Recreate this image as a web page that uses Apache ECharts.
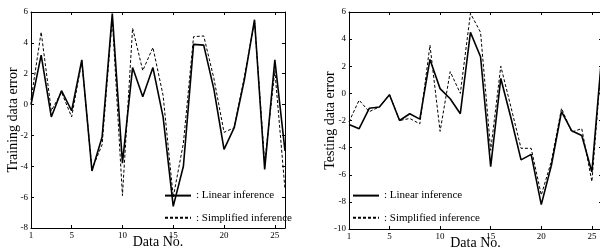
<!DOCTYPE html>
<html>
<head>
<meta charset="utf-8">
<script src="https://cdn.jsdelivr.net/npm/echarts@6/dist/echarts.min.js"></script>
<style>
  html, body { margin: 0; padding: 0; background: #fff; }
  #main { width: 600px; height: 252px; }
</style>
</head>
<body>
<div id="main"></div>
<script>
var dataNo = [1, 2, 3, 4, 5, 6, 7, 8, 9, 10, 11, 12, 13, 14, 15, 16, 17, 18, 19, 20, 21, 22, 23, 24, 25, 26]
var xTicks = [1, 5, 10, 15, 20, 25]

// training data error
var trainLinear = [0.0, 3.2, -0.8, 0.9, -0.4, 2.9, -4.3, -2.1, 5.9, -3.8, 2.4, 0.5, 2.4, -0.8, -6.6, -4.0, 3.9, 3.85, 1.0, -2.9, -1.5, 1.6, 5.5, -4.2, 2.9, -3.0]
var trainSimple = [0.3, 4.7, -0.4, 0.8, -0.8, 2.8, -4.2, -2.6, 5.6, -5.9, 4.95, 2.2, 3.7, 0.6, -6.0, -2.5, 4.4, 4.45, 1.7, -1.8, -1.5, 1.8, 5.4, -3.8, 2.2, -5.5]

// testing data error
var testLinear = [-2.3, -2.6, -1.1, -1.0, -0.1, -2.0, -1.5, -1.9, 2.5, 0.35, -0.4, -1.5, 4.5, 2.7, -5.4, 1.1, -1.8, -4.9, -4.5, -8.2, -5.3, -1.35, -2.75, -3.1, -5.8, 3.0]
var testSimple = [-2.1, -0.5, -1.35, -1.0, -0.1, -2.0, -1.85, -2.25, 3.55, -2.8, 1.6, 0.0, 5.9, 4.5, -4.2, 2.0, -1.0, -4.05, -4.05, -7.5, -5.0, -1.1, -2.85, -2.6, -6.5, 2.8]

function pairs(vals) {
    return dataNo.map(function (n, i) { return [n, vals[i]] })
}

var font = 'Liberation Serif'

function bottomAxis(grid) {
    return {
        type: 'value', gridIndex: grid, min: 1, max: 26,
        name: 'Data No.', nameLocation: 'middle', nameGap: 7, nameMoveOverlap: false,
        nameTextStyle: { fontFamily: font, fontSize: 14, color: '#000', verticalAlign: 'top' },
        axisLine: { onZero: false, lineStyle: { color: '#000', width: 1 } },
        axisTick: { inside: true, length: 3, customValues: xTicks, lineStyle: { color: '#000' } },
        axisLabel: { customValues: xTicks, margin: 3, fontFamily: font, fontSize: 9, color: '#000' },
        splitLine: { show: false }
    }
}
function topAxis(grid) {
    return {
        type: 'value', gridIndex: grid, position: 'top', min: 1, max: 26,
        axisLine: { onZero: false, lineStyle: { color: '#000', width: 1 } },
        axisTick: { inside: true, length: 3, customValues: xTicks, lineStyle: { color: '#000' } },
        axisLabel: { show: false },
        splitLine: { show: false }
    }
}
function leftAxis(grid, min, name, gap) {
    return {
        type: 'value', gridIndex: grid, min: min, max: 6, interval: 2,
        name: name, nameLocation: 'middle', nameGap: gap, nameMoveOverlap: false,
        nameTextStyle: { fontFamily: font, fontSize: 14, color: '#000' },
        axisLine: { show: true, onZero: false, lineStyle: { color: '#000', width: 1 } },
        axisTick: { inside: true, length: 3, lineStyle: { color: '#000' } },
        axisLabel: { margin: 3, fontFamily: font, fontSize: 9, color: '#000' },
        splitLine: { show: false }
    }
}
function rightAxis(grid, min) {
    return {
        type: 'value', gridIndex: grid, position: 'right', min: min, max: 6, interval: 2,
        axisLine: { show: true, onZero: false, lineStyle: { color: '#000', width: 1 } },
        axisTick: { inside: true, length: 3, lineStyle: { color: '#000' } },
        axisLabel: { show: false },
        splitLine: { show: false }
    }
}
function lineSeries(name, x, y, vals, dashed) {
    return {
        name: name, type: 'line', xAxisIndex: x, yAxisIndex: y,
        data: pairs(vals), symbol: 'none', animation: false,
        lineStyle: dashed ? { color: '#000', width: 1, type: [3, 2] } : { color: '#000', width: 1.6 },
        itemStyle: { color: '#000' }
    }
}
function legendAt(left) {
    return {
        left: left, top: 190, orient: 'vertical', padding: 0,
        itemWidth: 26, itemHeight: 14, itemGap: 11,
        data: ['Linear inference', 'Simplified inference'],
        formatter: function (n) { return ': ' + n },
        itemStyle: { opacity: 0 },
        textStyle: { fontFamily: font, fontSize: 11, color: '#000' },
        selectedMode: false
    }
}

var myChart = echarts.init(document.getElementById('main'))
var option = {
    backgroundColor: '#fff',
    animation: false,
    grid: [
        { left: 31, top: 12, width: 254, height: 216, outerBoundsMode: 'none' },
        { left: 349, top: 12, width: 253, height: 217, outerBoundsMode: 'none' }
    ],
    xAxis: [bottomAxis(0), bottomAxis(1), topAxis(0), topAxis(1)],
    yAxis: [
        leftAxis(0, -8, 'Training data error', 11),
        leftAxis(1, -10, 'Testing data error', 12),
        rightAxis(0, -8),
        rightAxis(1, -10)
    ],
    legend: [legendAt(164), legendAt(352)],
    series: [
        lineSeries('Linear inference', 0, 0, trainLinear, false),
        lineSeries('Simplified inference', 0, 0, trainSimple, true),
        lineSeries('Linear inference', 1, 1, testLinear, false),
        lineSeries('Simplified inference', 1, 1, testSimple, true)
    ]
}
myChart.setOption(option, true)
</script>
</body>
</html>
